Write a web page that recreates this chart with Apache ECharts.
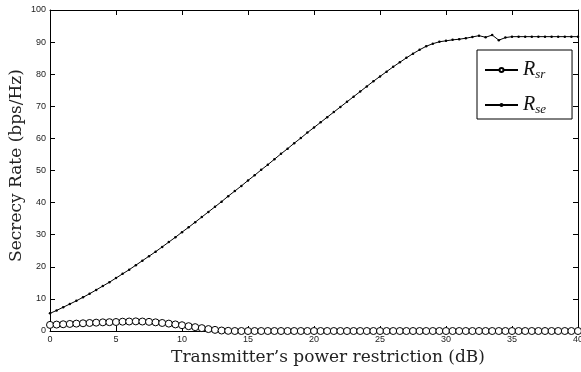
<!DOCTYPE html>
<html>
<head>
<meta charset="utf-8">
<script src="https://cdn.jsdelivr.net/npm/echarts@6/dist/echarts.min.js"></script>
<style>
  html, body { margin: 0; padding: 0; background: #fff; }
  #main { width: 581px; height: 372px; }
</style>
</head>
<body>
<div id="main"></div>
<script>
// power restriction (dB), 0.5 dB steps
var powerDb = [
  0, 0.5, 1, 1.5, 2, 2.5, 3, 3.5, 4, 4.5,
  5, 5.5, 6, 6.5, 7, 7.5, 8, 8.5, 9, 9.5,
  10, 10.5, 11, 11.5, 12, 12.5, 13, 13.5, 14, 14.5,
  15, 15.5, 16, 16.5, 17, 17.5, 18, 18.5, 19, 19.5,
  20, 20.5, 21, 21.5, 22, 22.5, 23, 23.5, 24, 24.5,
  25, 25.5, 26, 26.5, 27, 27.5, 28, 28.5, 29, 29.5,
  30, 30.5, 31, 31.5, 32, 32.5, 33, 33.5, 34, 34.5,
  35, 35.5, 36, 36.5, 37, 37.5, 38, 38.5, 39, 39.5, 40
];

var rSr = [
  1.9, 2.0, 2.1, 2.2, 2.3, 2.4, 2.5, 2.6, 2.7, 2.75,
  2.8, 2.9, 2.95, 3.0, 2.95, 2.85, 2.7, 2.5, 2.3, 2.05,
  1.8, 1.5, 1.2, 0.9, 0.6, 0.35, 0.15, 0.05, 0, 0,
  0, 0, 0, 0, 0, 0, 0, 0, 0, 0,
  0, 0, 0, 0, 0, 0, 0, 0, 0, 0,
  0, 0, 0, 0, 0, 0, 0, 0, 0, 0,
  0, 0, 0, 0, 0, 0, 0, 0, 0, 0,
  0, 0, 0, 0, 0, 0, 0, 0, 0, 0, 0
];

var rSe = [
  5.5, 6.4, 7.4, 8.4, 9.4, 10.5, 11.6, 12.8, 14.0, 15.2,
  16.5, 17.8, 19.1, 20.5, 21.9, 23.3, 24.7, 26.2, 27.7, 29.2,
  30.8, 32.3, 33.9, 35.5, 37.1, 38.7, 40.3, 42.0, 43.6, 45.2,
  46.9, 48.5, 50.2, 51.8, 53.5, 55.2, 56.8, 58.5, 60.1, 61.8,
  63.4, 65.0, 66.6, 68.2, 69.8, 71.4, 73.0, 74.6, 76.2, 77.8,
  79.3, 80.8, 82.3, 83.7, 85.1, 86.4, 87.6, 88.7, 89.5, 90.1,
  90.4, 90.7, 90.9, 91.2, 91.6, 92.0, 91.5, 92.2, 90.6, 91.4,
  91.7, 91.7, 91.7, 91.7, 91.7, 91.7, 91.7, 91.7, 91.7, 91.7, 91.7
];

var seriesNames = ['Rsr', 'Rse'];

var dom = document.getElementById('main');
var myChart = echarts.init(dom);

function pairs(ys) {
    return ys.map(function (y, i) { return [powerDb[i], y]; });
}

var tickLabel = { color: '#222', fontFamily: 'Liberation Sans', fontSize: 9 };
var axisLine = { show: true, onZero: false, lineStyle: { color: '#000', width: 1 } };
var axisTick = { show: true, inside: true, length: 5, lineStyle: { color: '#000' } };

var option = {
    animation: false,
    backgroundColor: '#fff',
    grid: { left: 50, right: 3, top: 10, bottom: 41, containLabel: false, outerBoundsMode: 'none' },
    legend: {
        data: seriesNames,
        orient: 'vertical',
        left: 477,
        top: 50,
        itemWidth: 33,
        itemHeight: 5,
        itemGap: 14,
        padding: [10, 26, 3, 7],
        borderColor: '#000',
        borderWidth: 1,
        borderRadius: 0,
        backgroundColor: '#fff',
        formatter: function (name) {
            return '{r|R}{s|' + name.slice(1) + '}';
        },
        textStyle: {
            color: '#111',
            rich: {
                r: { fontFamily: 'Liberation Serif', fontStyle: 'italic', fontSize: 20, color: '#111' },
                s: { fontFamily: 'Liberation Serif', fontStyle: 'italic', fontSize: 13, color: '#111', padding: [9, 0, 0, 0] }
            }
        }
    },
    xAxis: [{
        type: 'value', min: 0, max: 40, interval: 5,
        name: 'Transmitter\u2019s power restriction (dB)',
        nameLocation: 'middle', nameGap: 18, nameMoveOverlap: false,
        nameTextStyle: { fontFamily: 'DejaVu Serif', fontSize: 17, color: '#222', padding: [0, 0, 0, 28] },
        axisLine: axisLine, axisTick: axisTick,
        axisLabel: Object.assign({ margin: 4 }, tickLabel),
        splitLine: { show: false }
    }, {
        type: 'value', min: 0, max: 40, interval: 5, position: 'top',
        axisLine: axisLine, axisTick: axisTick,
        axisLabel: { show: false }, splitLine: { show: false }
    }],
    yAxis: [{
        type: 'value', min: 0, max: 100, interval: 10,
        name: 'Secrecy Rate (bps/Hz)',
        nameLocation: 'middle', nameGap: 25, nameMoveOverlap: false,
        nameTextStyle: { fontFamily: 'DejaVu Serif', fontSize: 17, color: '#222', padding: [0, 0, 0, 10] },
        axisLine: axisLine, axisTick: axisTick,
        axisLabel: Object.assign({ margin: 4 }, tickLabel),
        splitLine: { show: false }
    }, {
        type: 'value', min: 0, max: 100, interval: 10, position: 'right',
        axisLine: axisLine, axisTick: axisTick,
        axisLabel: { show: false }, splitLine: { show: false }
    }],
    series: [
        {
            name: 'Rsr', type: 'line', data: pairs(rSr),
            symbol: 'circle', symbolSize: 7, showSymbol: true,
            lineStyle: { color: '#000', width: 1 },
            itemStyle: { color: '#fff', borderColor: '#000', borderWidth: 1 },
            z: 3
        },
        {
            name: 'Rse', type: 'line', data: pairs(rSe),
            symbol: 'circle', symbolSize: 2.5, showSymbol: true,
            lineStyle: { color: '#000', width: 1 },
            itemStyle: { color: '#000', borderColor: '#000', borderWidth: 0 },
            z: 2
        }
    ]
};

myChart.setOption(option, true);
</script>
</body>
</html>
